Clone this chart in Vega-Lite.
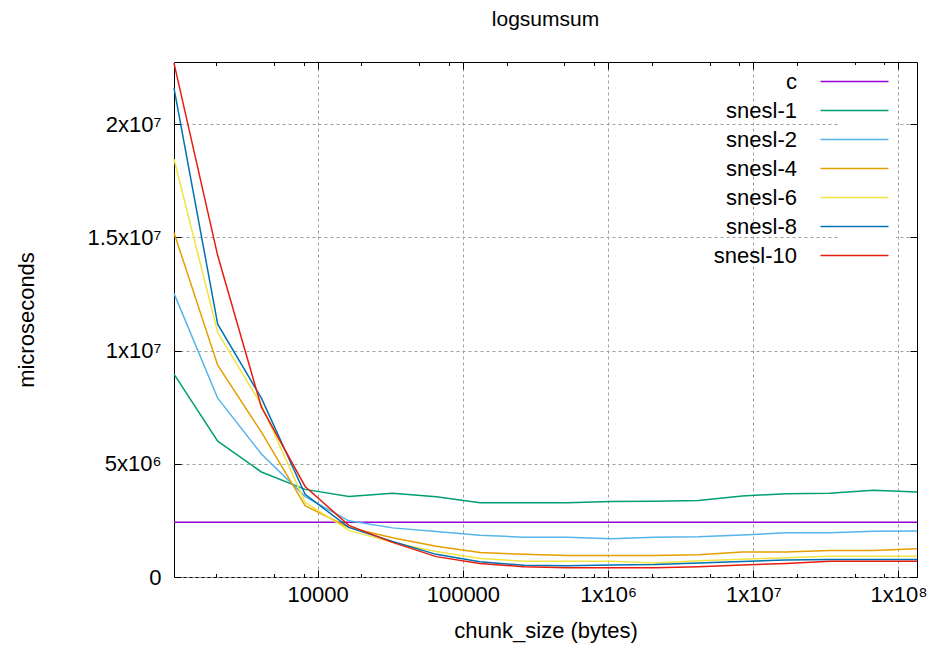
{
  "$schema": "https://vega.github.io/schema/vega-lite/v6.json",
  "width": 743,
  "height": 515,
  "autosize": {"type": "none"},
  "padding": {"left": 174, "top": 62, "right": 22, "bottom": 89},
  "background": "white",
  "title": {"text": "logsumsum", "font": "Liberation Sans", "fontSize": 21, "fontWeight": "normal", "color": "#000000", "anchor": "middle", "offset": 30},
  "config": {"view": {"stroke": "#000000", "strokeWidth": 1}, "font": "Liberation Sans"},
  "data": {"values": [
    {"s":"c","x":1024,"y":2420000},{"s":"c","x":2048,"y":2420000},{"s":"c","x":4096,"y":2420000},{"s":"c","x":8192,"y":2420000},{"s":"c","x":16384,"y":2420000},{"s":"c","x":32768,"y":2420000},{"s":"c","x":65536,"y":2420000},{"s":"c","x":131072,"y":2420000},{"s":"c","x":262144,"y":2420000},{"s":"c","x":524288,"y":2420000},{"s":"c","x":1048576,"y":2420000},{"s":"c","x":2097152,"y":2420000},{"s":"c","x":4194304,"y":2420000},{"s":"c","x":8388608,"y":2420000},{"s":"c","x":16777216,"y":2420000},{"s":"c","x":33554432,"y":2420000},{"s":"c","x":67108864,"y":2420000},{"s":"c","x":134217728,"y":2420000},
    {"s":"snesl-1","x":1024,"y":8960000},{"s":"snesl-1","x":2048,"y":6000000},{"s":"snesl-1","x":4096,"y":4640000},{"s":"snesl-1","x":8192,"y":3870000},{"s":"snesl-1","x":16384,"y":3560000},{"s":"snesl-1","x":32768,"y":3700000},{"s":"snesl-1","x":65536,"y":3550000},{"s":"snesl-1","x":131072,"y":3280000},{"s":"snesl-1","x":262144,"y":3280000},{"s":"snesl-1","x":524288,"y":3280000},{"s":"snesl-1","x":1048576,"y":3330000},{"s":"snesl-1","x":2097152,"y":3350000},{"s":"snesl-1","x":4194304,"y":3380000},{"s":"snesl-1","x":8388608,"y":3580000},{"s":"snesl-1","x":16777216,"y":3680000},{"s":"snesl-1","x":33554432,"y":3700000},{"s":"snesl-1","x":67108864,"y":3830000},{"s":"snesl-1","x":134217728,"y":3750000},
    {"s":"snesl-2","x":1024,"y":12530000},{"s":"snesl-2","x":2048,"y":7900000},{"s":"snesl-2","x":4096,"y":5430000},{"s":"snesl-2","x":8192,"y":3550000},{"s":"snesl-2","x":16384,"y":2480000},{"s":"snesl-2","x":32768,"y":2170000},{"s":"snesl-2","x":65536,"y":2010000},{"s":"snesl-2","x":131072,"y":1840000},{"s":"snesl-2","x":262144,"y":1760000},{"s":"snesl-2","x":524288,"y":1760000},{"s":"snesl-2","x":1048576,"y":1690000},{"s":"snesl-2","x":2097152,"y":1760000},{"s":"snesl-2","x":4194304,"y":1780000},{"s":"snesl-2","x":8388608,"y":1860000},{"s":"snesl-2","x":16777216,"y":1950000},{"s":"snesl-2","x":33554432,"y":1950000},{"s":"snesl-2","x":67108864,"y":2020000},{"s":"snesl-2","x":134217728,"y":2030000},
    {"s":"snesl-4","x":1024,"y":15210000},{"s":"snesl-4","x":2048,"y":9360000},{"s":"snesl-4","x":4096,"y":6400000},{"s":"snesl-4","x":8192,"y":3150000},{"s":"snesl-4","x":16384,"y":2190000},{"s":"snesl-4","x":32768,"y":1730000},{"s":"snesl-4","x":65536,"y":1360000},{"s":"snesl-4","x":131072,"y":1080000},{"s":"snesl-4","x":262144,"y":1000000},{"s":"snesl-4","x":524288,"y":950000},{"s":"snesl-4","x":1048576,"y":950000},{"s":"snesl-4","x":2097152,"y":950000},{"s":"snesl-4","x":4194304,"y":980000},{"s":"snesl-4","x":8388608,"y":1100000},{"s":"snesl-4","x":16777216,"y":1100000},{"s":"snesl-4","x":33554432,"y":1170000},{"s":"snesl-4","x":67108864,"y":1170000},{"s":"snesl-4","x":134217728,"y":1250000},
    {"s":"snesl-6","x":1024,"y":18460000},{"s":"snesl-6","x":2048,"y":10800000},{"s":"snesl-6","x":4096,"y":7600000},{"s":"snesl-6","x":8192,"y":3300000},{"s":"snesl-6","x":16384,"y":2060000},{"s":"snesl-6","x":32768,"y":1530000},{"s":"snesl-6","x":65536,"y":1130000},{"s":"snesl-6","x":131072,"y":820000},{"s":"snesl-6","x":262144,"y":700000},{"s":"snesl-6","x":524288,"y":700000},{"s":"snesl-6","x":1048576,"y":700000},{"s":"snesl-6","x":2097152,"y":620000},{"s":"snesl-6","x":4194304,"y":720000},{"s":"snesl-6","x":8388608,"y":780000},{"s":"snesl-6","x":16777216,"y":850000},{"s":"snesl-6","x":33554432,"y":920000},{"s":"snesl-6","x":67108864,"y":920000},{"s":"snesl-6","x":134217728,"y":920000},
    {"s":"snesl-8","x":1024,"y":21600000},{"s":"snesl-8","x":2048,"y":11170000},{"s":"snesl-8","x":4096,"y":7900000},{"s":"snesl-8","x":8192,"y":3650000},{"s":"snesl-8","x":16384,"y":2190000},{"s":"snesl-8","x":32768,"y":1570000},{"s":"snesl-8","x":65536,"y":1000000},{"s":"snesl-8","x":131072,"y":670000},{"s":"snesl-8","x":262144,"y":520000},{"s":"snesl-8","x":524288,"y":500000},{"s":"snesl-8","x":1048576,"y":530000},{"s":"snesl-8","x":2097152,"y":550000},{"s":"snesl-8","x":4194304,"y":620000},{"s":"snesl-8","x":8388608,"y":690000},{"s":"snesl-8","x":16777216,"y":750000},{"s":"snesl-8","x":33554432,"y":770000},{"s":"snesl-8","x":67108864,"y":770000},{"s":"snesl-8","x":134217728,"y":770000},
    {"s":"snesl-10","x":1024,"y":22700000},{"s":"snesl-10","x":2048,"y":14200000},{"s":"snesl-10","x":4096,"y":7500000},{"s":"snesl-10","x":8192,"y":4000000},{"s":"snesl-10","x":16384,"y":2280000},{"s":"snesl-10","x":32768,"y":1530000},{"s":"snesl-10","x":65536,"y":900000},{"s":"snesl-10","x":131072,"y":600000},{"s":"snesl-10","x":262144,"y":450000},{"s":"snesl-10","x":524288,"y":410000},{"s":"snesl-10","x":1048576,"y":410000},{"s":"snesl-10","x":2097152,"y":410000},{"s":"snesl-10","x":4194304,"y":450000},{"s":"snesl-10","x":8388608,"y":530000},{"s":"snesl-10","x":16777216,"y":600000},{"s":"snesl-10","x":33554432,"y":700000},{"s":"snesl-10","x":67108864,"y":700000},{"s":"snesl-10","x":134217728,"y":700000}
  ]},
  "layer": [
    {
      "mark": {"type": "line", "strokeWidth": 1.5},
      "encoding": {
        "x": {"field": "x", "type": "quantitative",
          "scale": {"type": "log", "domain": [1024, 134217728], "nice": false},
          "axis": {"orient": "bottom", "title": "chunk_size (bytes)",
            "values": [2000,5000,8000,10000,20000,50000,80000,100000,200000,500000,800000,1000000,2000000,5000000,8000000,10000000,20000000,50000000,80000000,100000000],
            "labelExpr": "datum.value == 10000 ? '10000' : datum.value == 100000 ? '100000' : datum.value == 1000000 ? '1x10⁶' : datum.value == 10000000 ? '1x10⁷' : datum.value == 100000000 ? '1x10⁸' : ''",
            "labelOverlap": false, "labelFlush": false, "labelFont": "Liberation Sans", "labelFontSize": 22, "labelColor": "#000000", "labelPadding": 14,
            "titleFont": "Liberation Sans", "titleFontSize": 22, "titleFontWeight": "normal", "titleColor": "#000000", "titlePadding": 12,
            "domain": false, "tickColor": "#000000", "tickWidth": 1,
            "tickSize": {"condition": {"test": "datum.value == 10000 || datum.value == 100000 || datum.value == 1000000 || datum.value == 10000000 || datum.value == 100000000", "value": -7}, "value": -3.5},
            "grid": true, "gridColor": "#a0a0a0", "gridDash": [3, 3], "gridWidth": 1,
            "gridOpacity": {"condition": {"test": "datum.value == 10000 || datum.value == 100000 || datum.value == 1000000 || datum.value == 10000000 || datum.value == 100000000", "value": 1}, "value": 0}
          }},
        "y": {"field": "y", "type": "quantitative",
          "scale": {"domain": [0, 22750000], "nice": false, "zero": true},
          "axis": {"orient": "left", "title": "microseconds",
            "values": [0, 5000000, 10000000, 15000000, 20000000],
            "labelExpr": "datum.value == 0 ? '0' : datum.value == 5000000 ? '5x10⁶' : datum.value == 10000000 ? '1x10⁷' : datum.value == 15000000 ? '1.5x10⁷' : '2x10⁷'",
            "labelOverlap": false, "labelFlush": false, "labelFont": "Liberation Sans", "labelFontSize": 22, "labelColor": "#000000", "labelPadding": 20,
            "titleFont": "Liberation Sans", "titleFontSize": 22, "titleFontWeight": "normal", "titleColor": "#000000", "titlePadding": 48,
            "domain": false, "tickColor": "#000000", "tickWidth": 1, "tickSize": -7,
            "grid": true, "gridColor": "#a0a0a0", "gridDash": [3, 3], "gridWidth": 1
          }},
        "color": {"field": "s", "type": "nominal",
          "scale": {"domain": ["c", "snesl-1", "snesl-2", "snesl-4", "snesl-6", "snesl-8", "snesl-10"],
                    "range": ["#9400d3", "#009e73", "#56b4e9", "#e69f00", "#f0e442", "#0072b2", "#e51e10"]},
          "legend": {"orient": "none", "legendX": 664, "legendY": 3, "title": null,
            "symbolType": "M-3,0H3", "symbolSize": 514, "symbolStrokeWidth": 1.5,
            "labelFont": "Liberation Sans", "labelFontSize": 22, "labelColor": "#000000",
            "labelAlign": "right", "labelOffset": -70, "rowPadding": 5, "fillColor": "white", "padding": 4}
        }
      }
    },
    {
      "mark": {"type": "line", "opacity": 0},
      "encoding": {
        "detail": {"field": "s"},
        "x": {"field": "x", "type": "quantitative",
          "scale": {"type": "log", "domain": [1024, 134217728], "nice": false},
          "axis": {"orient": "top", "title": null, "labels": false, "domain": false, "grid": false,
            "values": [2000,5000,8000,10000,20000,50000,80000,100000,200000,500000,800000,1000000,2000000,5000000,8000000,10000000,20000000,50000000,80000000,100000000],
            "tickColor": "#000000", "tickWidth": 1,
            "tickSize": {"condition": {"test": "datum.value == 10000 || datum.value == 100000 || datum.value == 1000000 || datum.value == 10000000 || datum.value == 100000000", "value": -7}, "value": -3.5}
          }},
        "y": {"field": "y", "type": "quantitative",
          "scale": {"domain": [0, 22750000], "nice": false, "zero": true},
          "axis": {"orient": "right", "title": null, "labels": false, "domain": false, "grid": false,
            "values": [0, 5000000, 10000000, 15000000, 20000000],
            "tickColor": "#000000", "tickWidth": 1, "tickSize": -7}}
      }
    }
  ],
  "resolve": {"axis": {"x": "independent", "y": "independent"}}
}
